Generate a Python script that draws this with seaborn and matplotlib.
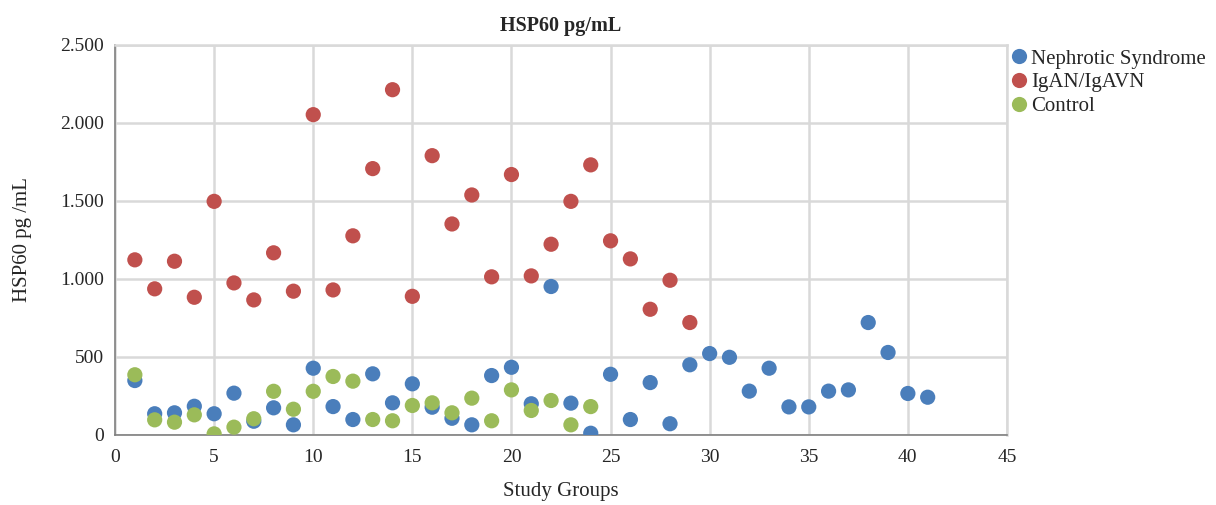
import pandas as pd
import matplotlib.pyplot as plt
import seaborn as sns
from matplotlib.ticker import FuncFormatter

# Study group index and HSP60 values (pg/mL) per series
nephrotic_x = list(range(1, 42))
nephrotic_y = [348, 135, 141, 183, 135, 267, 87, 173, 64, 427,
               181, 98, 391, 205, 327, 177, 106, 64, 380, 433,
               199, 951, 203, 10, 388, 98, 335, 71, 449, 521,
               497, 280, 427, 179, 179, 280, 288, 720, 528, 265,
               241]

igan_x = list(range(1, 30))
igan_y = [1122, 936, 1113, 882, 1497, 974, 865, 1167, 921, 2053,
          929, 1276, 1707, 2213, 888, 1790, 1352, 1538, 1013, 1669,
          1019, 1222, 1497, 1731, 1244, 1128, 805, 991, 720]

control_x = list(range(1, 25))
control_y = [385, 96, 81, 128, 6, 49, 103, 279, 164, 279,
             374, 344, 98, 90, 188, 205, 141, 235, 90, 288,
             156, 220, 64, 181]

groups = ["Nephrotic Syndrome", "IgAN/IgAVN", "Control"]
colors = ["#4A7EBB", "#C0504D", "#9BBB59"]

df = pd.concat([
    pd.DataFrame({"x": nephrotic_x, "y": nephrotic_y, "group": groups[0]}),
    pd.DataFrame({"x": igan_x, "y": igan_y, "group": groups[1]}),
    pd.DataFrame({"x": control_x, "y": control_y, "group": groups[2]}),
], ignore_index=True)

sns.set_style("white")
plt.rcParams["font.family"] = ["Liberation Serif", "DejaVu Serif"]

fig = plt.figure(figsize=(12.16, 5.05), dpi=100)
ax = fig.add_axes([0.0946, 0.139, 0.7335, 0.772])

sns.scatterplot(data=df, x="x", y="y", hue="group", hue_order=groups,
                palette=colors, s=120, linewidth=0, alpha=1, ax=ax, zorder=3)

ax.set_xlim(0, 45)
ax.set_ylim(0, 2500)
ax.set_xticks(range(0, 46, 5))
ax.set_yticks(range(0, 2501, 500))
ax.yaxis.set_major_formatter(FuncFormatter(lambda v, p: f"{int(v):,}".replace(",", ".")))
ax.grid(True, color="#D9D9D9", linewidth=1.8)
ax.set_axisbelow(True)
for side in ["top", "right"]:
    ax.spines[side].set_color("#D9D9D9")
    ax.spines[side].set_linewidth(1.8)
for side in ["left", "bottom"]:
    ax.spines[side].set_color("#7F7F7F")
    ax.spines[side].set_linewidth(1.2)
ax.tick_params(axis="both", length=0, labelsize=14)
ax.tick_params(axis="x", pad=10)
ax.tick_params(axis="y", pad=8)

ax.set_title("HSP60 pg/mL", fontsize=14.5, fontweight="bold", pad=10)
ax.set_xlabel("Study Groups", fontsize=15, labelpad=12)
ax.set_ylabel("HSP60 pg /mL", fontsize=15, labelpad=20)

ax.legend(loc="upper left", bbox_to_anchor=(1.0, 1.0), frameon=False,
          fontsize=15, handlelength=0.75, handletextpad=0.2, borderpad=0.2,
          borderaxespad=0.0, labelspacing=0.2, markerscale=1.0)

fig.savefig("out.png", dpi=100)
